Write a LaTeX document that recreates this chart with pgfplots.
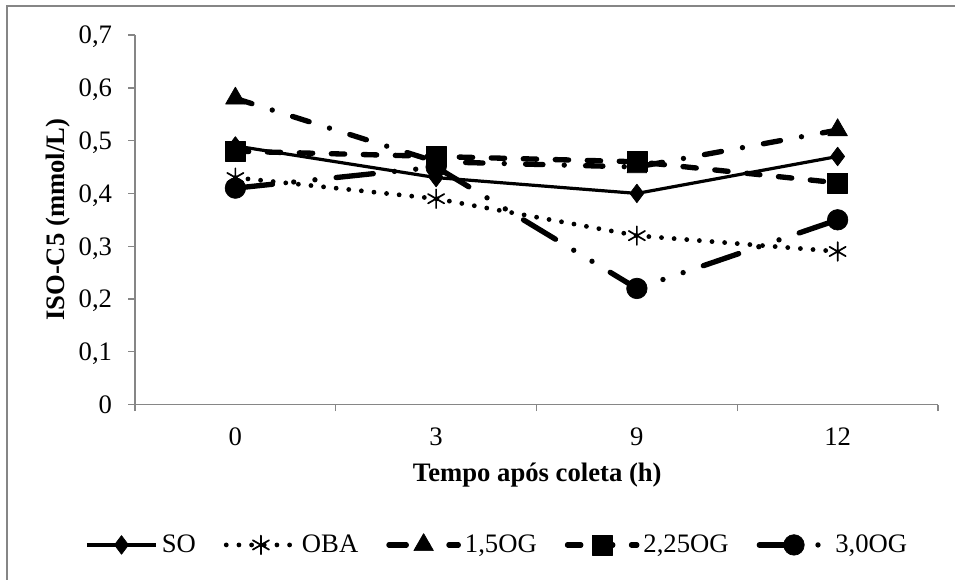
\documentclass[border=0pt]{standalone}
\usepackage{pgfplots}
\pgfplotsset{compat=1.18}
\usepackage{fontspec}
\setmainfont{Liberation Serif}
\definecolor{axgray}{RGB}{134,134,134}

\begin{document}
\begin{tikzpicture}
\useasboundingbox (-101.25pt,-131.25pt) rectangle (615pt,303.4pt);
\draw[axgray, line width=1pt] (-96pt,-140pt) -- (-96pt,298.9pt) -- (640pt,298.9pt);
\begin{axis}[
    scale only axis,
    width=602.25pt, height=277.1pt,
    xmin=-0.5, xmax=3.5, ymin=0, ymax=0.7,
    axis x line*=bottom, axis y line*=left,
    axis line style={axgray, line width=1pt, -},
    tick align=outside, major tick length=5pt,
    tick style={axgray, line width=1pt},
    xtick={-0.5,0.5,1.5,2.5,3.5}, xticklabels=\empty,
    extra x ticks={0,1,2,3}, extra x tick labels={0,3,9,12},
    extra x tick style={major tick length=0pt},
    ytick={0,0.1,0.2,0.3,0.4,0.5,0.6,0.7},
    /pgf/number format/.cd, use comma, fixed, precision=1, assume math mode=true,
    /pgfplots/.cd,
    ticklabel style={font=\fontsize{20}{23}\selectfont, text=black},
    xticklabel style={anchor=north, inner sep=0pt, yshift=-17pt},
    yticklabel style={anchor=east, inner sep=0pt, text depth=0pt, xshift=-12pt},
    xlabel={Tempo após coleta (h)},
    ylabel={ISO-C5 (mmol/L)},
    label style={font=\fontsize{20}{23}\selectfont\bfseries},
    xlabel style={at={(axis description cs:0.501,-0.191)}, anchor=center},
    ylabel style={at={(axis description cs:-0.096,0.5)}, anchor=center},
    legend columns=-1,
    legend style={at={(axis description cs:-0.0623,-0.380)}, anchor=west,
        draw=none, inner sep=0pt, font=\fontsize{20}{23}\selectfont,
        nodes={inner sep=3pt},
        /tikz/every even column/.append style={column sep=18pt}},
    legend image code/.code={\draw[mark repeat=2,mark phase=2,#1]
        plot coordinates {(0pt,0pt) (26pt,0pt) (52pt,0pt)};},
    every axis plot/.append style={black, line join=round},
]
\addplot[line width=2.4pt, mark=diamond*, mark size=7pt,
    mark options={solid, line width=0.5pt}]
    coordinates {(0,0.49) (1,0.43) (2,0.40) (3,0.47)};
\addplot[line width=3.6pt, line cap=round, dash pattern=on 0pt off 9.5pt,
    mark=asterisk, mark size=7pt, mark options={solid, line width=1.3pt}]
    coordinates {(0,0.43) (1,0.39) (2,0.32) (3,0.29)};
\addplot[line width=4pt, line cap=round, dash pattern=on 13pt off 16pt on 0pt off 16pt,
    mark=triangle*, mark size=8.5pt, mark options={solid, line width=0.5pt}]
    coordinates {(0,0.58) (1,0.46) (2,0.45) (3,0.52)};
\addplot[line width=4pt, line cap=round, dash pattern=on 10pt off 14pt,
    mark=square*, mark size=7.5pt, mark options={solid, line width=0.5pt}]
    coordinates {(0,0.48) (1,0.47) (2,0.46) (3,0.42)};
\addplot[line width=4pt, line cap=round, dash pattern=on 28pt off 16pt on 0pt off 16pt on 0pt off 16pt,
    mark=*, mark size=7.7pt, mark options={solid, line width=0.5pt}]
    coordinates {(0,0.41) (1,0.45) (2,0.22) (3,0.35)};
\legend{SO, OBA, {1,5OG}, {2,25OG}, {3,0OG}}
\end{axis}
\end{tikzpicture}
\end{document}
